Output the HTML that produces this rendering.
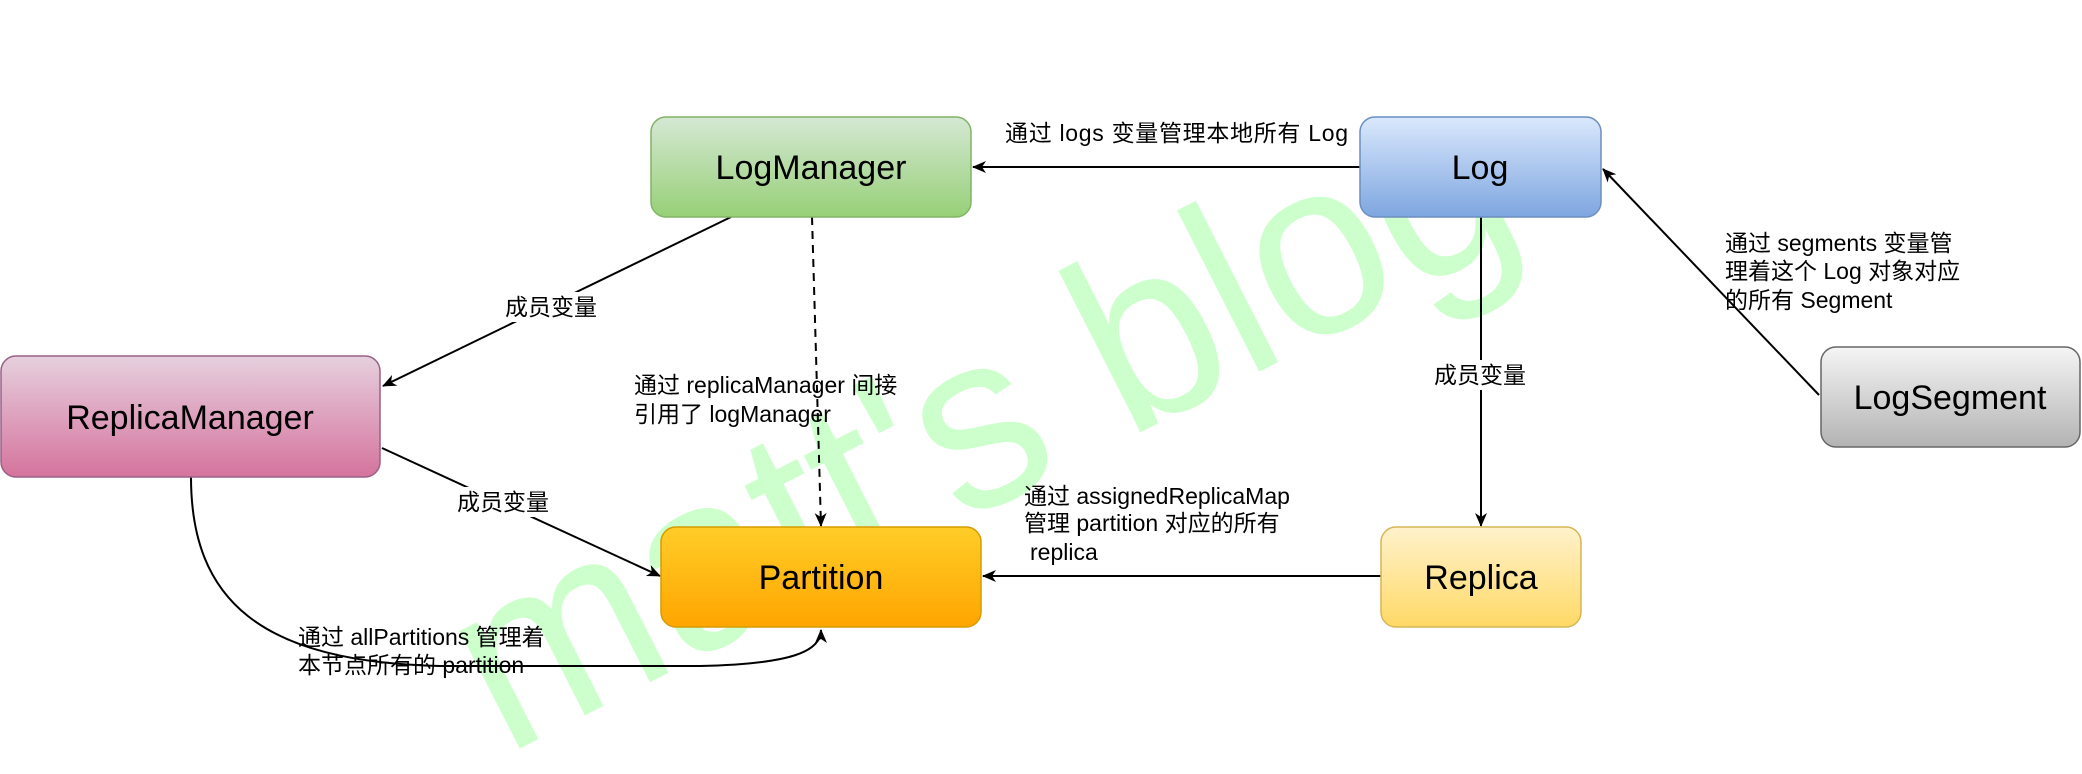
<!DOCTYPE html>
<html><head><meta charset="utf-8"><style>
html,body{margin:0;padding:0;background:#fff;}
svg{display:block;}
text{font-family:"Liberation Sans","Noto Sans CJK SC",sans-serif;}
</style></head><body>
<svg width="2082" height="774" viewBox="0 0 2082 774" xmlns="http://www.w3.org/2000/svg">
<defs>
<linearGradient id="gG" x1="0" y1="0" x2="0" y2="1"><stop offset="0" stop-color="#d5e8d4"/><stop offset="1" stop-color="#97d077"/></linearGradient>
<linearGradient id="gP" x1="0" y1="0" x2="0" y2="1"><stop offset="0" stop-color="#e6d0de"/><stop offset="1" stop-color="#d5739d"/></linearGradient>
<linearGradient id="gO" x1="0" y1="0" x2="0" y2="1"><stop offset="0" stop-color="#ffcd28"/><stop offset="1" stop-color="#ffa500"/></linearGradient>
<linearGradient id="gB" x1="0" y1="0" x2="0" y2="1"><stop offset="0" stop-color="#dae8fc"/><stop offset="1" stop-color="#7ea6e0"/></linearGradient>
<linearGradient id="gY" x1="0" y1="0" x2="0" y2="1"><stop offset="0" stop-color="#fff2cc"/><stop offset="1" stop-color="#ffd966"/></linearGradient>
<linearGradient id="gS" x1="0" y1="0" x2="0" y2="1"><stop offset="0" stop-color="#f5f5f5"/><stop offset="1" stop-color="#b3b3b3"/></linearGradient>
<marker id="ar" markerWidth="14" markerHeight="12" refX="13" refY="6" orient="auto" markerUnits="userSpaceOnUse">
<path d="M0,0 L14,6 L0,12 L4,6 Z" fill="#000"/></marker>
</defs>

<text x="978" y="418" font-size="250" fill="#ccffcc" text-anchor="middle" dominant-baseline="central" transform="rotate(-27 978 418)" textLength="1150" lengthAdjust="spacingAndGlyphs">matt's blog</text>

<g stroke="#000" stroke-width="2" fill="none">
<line x1="1360" y1="167" x2="973" y2="167" marker-end="url(#ar)"/>
<line x1="731" y1="217" x2="383" y2="386" marker-end="url(#ar)"/>
<line x1="382" y1="448" x2="660" y2="576" marker-end="url(#ar)"/>
<line x1="812" y1="217" x2="821" y2="526" stroke-dasharray="8,6" marker-end="url(#ar)"/>
<path d="M191,477 C191,600 260,662 440,666 L700,666 C790,664 821,652 821,630" marker-end="url(#ar)"/>
<line x1="1481" y1="217" x2="1481" y2="526" marker-end="url(#ar)"/>
<line x1="1381" y1="576" x2="983" y2="576" marker-end="url(#ar)"/>
<line x1="1819" y1="395" x2="1603" y2="169" marker-end="url(#ar)"/>
</g>

<g font-size="23" fill="#000">
<rect x="1000" y="118" width="352" height="30" fill="#fff"/>
<text x="1005" y="141" textLength="343">通过 logs 变量管理本地所有 Log</text>
<rect x="498" y="292" width="104" height="30" fill="#fff"/>
<text x="551" y="315" text-anchor="middle">成员变量</text>
<rect x="452" y="487" width="104" height="30" fill="#fff"/>
<text x="503" y="510" text-anchor="middle">成员变量</text>
<rect x="1428" y="360" width="104" height="30" fill="#fff"/>
<text x="1480" y="383" text-anchor="middle">成员变量</text>
<text x="634" y="393">通过 replicaManager 间接</text>
<text x="634" y="422">引用了 logManager</text>
<text x="298" y="645">通过 allPartitions 管理着</text>
<text x="298" y="673">本节点所有的 partition</text>
<text x="1024" y="504">通过 assignedReplicaMap</text>
<text x="1024" y="531">管理 partition 对应的所有</text>
<text x="1030" y="560">replica</text>
<text x="1725" y="251">通过 segments 变量管</text>
<text x="1725" y="279">理着这个 Log 对象对应</text>
<text x="1725" y="308">的所有 Segment</text>
</g>

<rect x="651" y="117" width="320" height="100" rx="15" fill="url(#gG)" stroke="#82b366" stroke-width="1.5"/>
<rect x="1" y="356" width="379" height="121" rx="15" fill="url(#gP)" stroke="#996185" stroke-width="1.5"/>
<rect x="661" y="527" width="320" height="100" rx="15" fill="url(#gO)" stroke="#d79b00" stroke-width="1.5"/>
<rect x="1360" y="117" width="241" height="100" rx="15" fill="url(#gB)" stroke="#6c8ebf" stroke-width="1.5"/>
<rect x="1381" y="527" width="200" height="100" rx="15" fill="url(#gY)" stroke="#d6b656" stroke-width="1.5"/>
<rect x="1821" y="347" width="259" height="100" rx="15" fill="url(#gS)" stroke="#666" stroke-width="1.5"/>

<g font-size="34" fill="#000" text-anchor="middle">
<text x="811" y="179">LogManager</text>
<text x="190" y="429">ReplicaManager</text>
<text x="821" y="589">Partition</text>
<text x="1480" y="179">Log</text>
<text x="1481" y="589">Replica</text>
<text x="1950" y="409">LogSegment</text>
</g>
</svg>
</body></html>
